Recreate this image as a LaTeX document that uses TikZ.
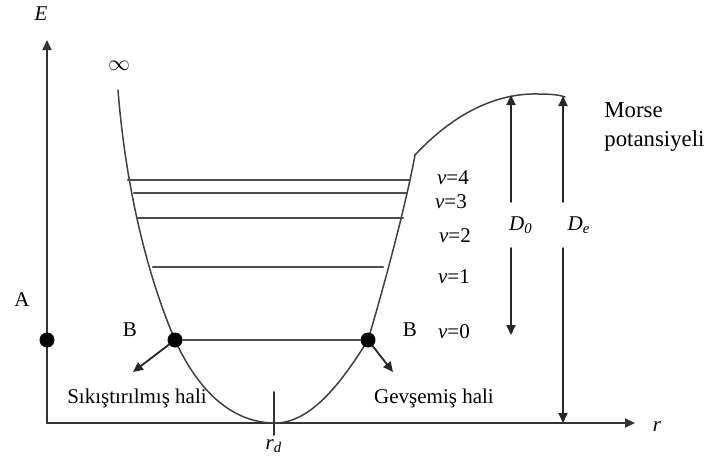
\documentclass[tikz,border=0pt]{standalone}
\usepackage{fontspec}
\setmainfont{Liberation Serif}
\usetikzlibrary{arrows.meta}

\begin{document}
\begin{tikzpicture}[x=0.5pt, y=-0.5pt, line cap=round, line join=round,
	axis/.style={line width=1pt, black!80, -{Triangle[length=5pt,width=4.5pt]}},
	arr/.style={line width=0.9pt, black!85, -{Triangle[length=5pt,width=4.5pt]}},
	curve/.style={line width=0.75pt, black!75},
	level/.style={line width=1.2pt, black!70},
	dot/.style={circle, fill=black, inner sep=0pt, minimum size=7.5pt},
	lbl/.style={font=\fontsize{10.5}{12}\selectfont, inner sep=1pt}]
				\useasboundingbox (0,0) rectangle (709,461);
				% axes
				\coordinate (O) at (47,423);
				\coordinate (Etip) at (47,40);
				\coordinate (rtip) at (635,423);
				\draw[axis] (O)--(Etip);
				\draw[axis] (O)--(rtip);
				\node[lbl] (E) at (41,14) {\textit{E}};
				\node[lbl] (r) at (657,427) {\textit{r}};
				\node[lbl] (inf) at (119,66) {$\infty$};
				% Morse curve
				\coordinate (kink) at (415,155);
				\draw[curve] (118,90) .. controls (125,180) and (145,270) .. (175,340)
					.. controls (200,395) and (235,423) .. (275,423)
					.. controls (310,423) and (340,385) .. (368,340)
					.. controls (380,300) and (405,210) .. (kink);
				\draw[curve] (kink) .. controls (455,112) and (498,93) .. (538,94) .. controls (552,94) and (560,95) .. (565,97);
				% levels
				\draw[level] (128,180)--(410,180);
				\draw[level] (134,193)--(407,193);
				\draw[level] (138,218)--(403,218);
				\draw[level] (153,267)--(383,267);
				\node[dot] (A) at (47,340) {};
				\node[dot] (Bl) at (175,340) {};
				\node[dot] (Br) at (368,340) {};
				\draw[level] (Bl)--(Br);
				\foreach \n/\x/\y in {4/453/178, 3/451/202, 2/455/236, 1/454/277, 0/454/332}
					\node[lbl] (v\n) at (\x,\y) {\textit{v}=\n};
				\node[lbl] (Alab) at (22,300) {A};
				\node[lbl] (Bllab) at (130,330) {B};
				\node[lbl] (Brlab) at (410,330) {B};
				% compressed / relaxed
				\coordinate (sq) at (133,372);
				\coordinate (rl) at (393,372);
				\draw[arr] (Bl)--(sq);
				\draw[arr] (Br)--(rl);
				\node[lbl] (sqlab) at (137,398) {Sıkıştırılmış hali};
				\node[lbl] (rllab) at (434,398) {Gevşemiş hali};
				% r_d
				\draw[line width=1pt, black!80] (274,392)--(274,435);
				\node[lbl] (rd) at (274,446) {\textit{r\textsubscript{d}}};
				% dissociation energies
				\coordinate (D0top) at (511,95);
				\coordinate (D0bot) at (511,335);
				\coordinate (Detop) at (563,96);
				\coordinate (Debot) at (563,423);
				\node[lbl, inner ysep=7pt] (D0) at (521,225) {\textit{D\textsubscript{0}}};
				\node[lbl, inner ysep=7pt] (De) at (579,225) {\textit{D\textsubscript{e}}};
				\draw[arr] (D0.north -| D0top)--(D0top);
				\draw[arr] (D0.south -| D0bot)--(D0bot);
				\draw[arr] (De.north -| Detop)--(Detop);
				\draw[arr] (De.south -| Debot)--(Debot);
				\node[font=\fontsize{11.4}{14.5}\selectfont, align=left, anchor=north west, inner sep=0pt] (morse) at (604,102) {Morse\\potansiyeli};
			\end{tikzpicture}
\end{document}
